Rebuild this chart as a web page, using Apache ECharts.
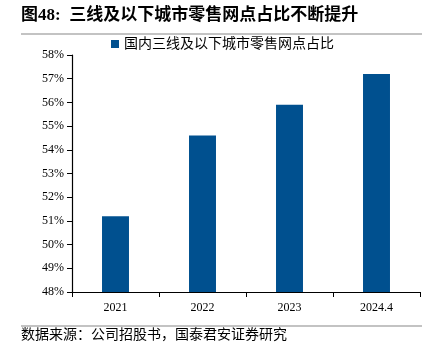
<!DOCTYPE html>
<html><head><meta charset="utf-8">
<script src="https://cdn.jsdelivr.net/npm/echarts@6/dist/echarts.min.js"></script>
<style>html,body{margin:0;padding:0;background:#fff}#c{width:437px;height:358px}</style>
</head><body><div id="c"></div>
<script>
const categories = ['2021', '2022', '2023', '2024.4'];
const values = [51.2, 54.6, 55.9, 57.2];
const seriesName = '国内三线及以下城市零售网点占比';
const titleText = '图48:  三线及以下城市零售网点占比不断提升';
const sourceText = '数据来源：公司招股书，国泰君安证券研究';

const chart = echarts.init(document.getElementById('c'), null, {renderer: 'canvas'});
const serif = '"Liberation Serif", "Noto Sans CJK SC", serif';
chart.setOption({
  animation: false,
  graphic: [
    {type: 'text', left: 21, top: 7, style: {text: titleText, font: 'bold 17px ' + serif, fill: '#000'}},
    {type: 'line', shape: {x1: 21, y1: 34, x2: 422, y2: 34}, style: {stroke: '#888', lineWidth: 1.2}},
    {type: 'line', shape: {x1: 21, y1: 326, x2: 422, y2: 326}, style: {stroke: '#888', lineWidth: 1.2}},
    {type: 'text', left: 21, top: 328, style: {text: sourceText, font: '14px ' + serif, fill: '#000'}}
  ],
  legend: {
    top: 32, left: 106, itemWidth: 8, itemHeight: 8, itemGap: 4,
    textStyle: {fontFamily: serif, fontSize: 14, color: '#000'},
    data: [{name: seriesName, icon: 'rect'}]
  },
  grid: {left: 72, right: 17, top: 55, bottom: 66},
  xAxis: {
    type: 'category', data: categories,
    axisLine: {lineStyle: {color: '#000', width: 1.2}},
    axisTick: {show: true, length: 5, alignWithLabel: false, lineStyle: {color: '#000'}},
    axisLabel: {fontFamily: serif, fontSize: 12, color: '#000', margin: 10}
  },
  yAxis: {
    type: 'value', min: 48, max: 58, interval: 1,
    axisLine: {show: true, lineStyle: {color: '#000', width: 1.2}},
    axisTick: {show: true, length: 5, lineStyle: {color: '#000'}},
    splitLine: {show: false},
    axisLabel: {fontFamily: serif, fontSize: 12, color: '#000', margin: 8, formatter: v => v + '%'}
  },
  series: [{
    name: seriesName, type: 'bar', data: values, barWidth: '31%',
    itemStyle: {color: '#00508F'}
  }]
});
</script></body></html>
